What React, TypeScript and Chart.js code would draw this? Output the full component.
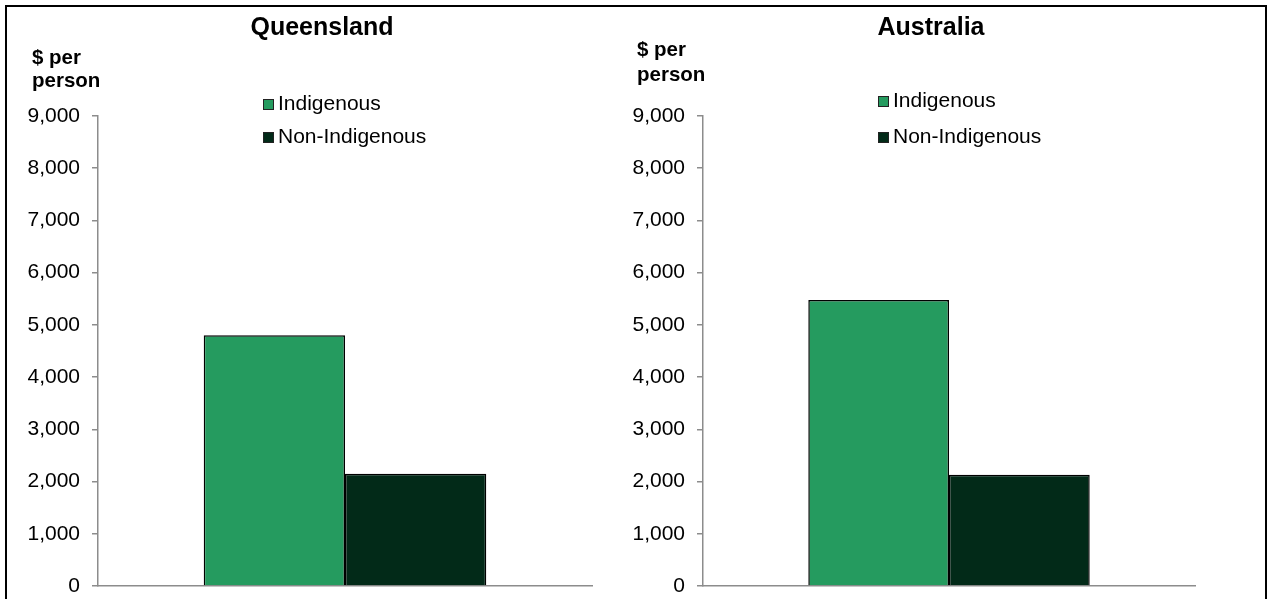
import React, { useEffect, useRef } from "react";
import { Chart, registerables } from "chart.js";

Chart.register(...registerables);

const regions = ["Queensland", "Australia"];
const seriesNames = ["Indigenous", "Non-Indigenous"];
const indigenousValues = [4800, 5475];
const nonIndigenousValues = [2150, 2130];
const yMin = 0;
const yMax = 9000;
const yStep = 1000;
const unitLines = ["$ per", "person"];

const seriesColors = ["#259B5F", "#022A18"];
const FONT = "'Liberation Sans', Arial, sans-serif";

type PanelLayout = {
  canvasLeft: number;
  canvasWidth: number;
  axisWidth: number;
  padRight: number;
  titleX: number;
  unitX: number;
  unitY: number[];
  legendX: number;
  legendY: number[];
};

const layouts: PanelLayout[] = [
  { canvasLeft: 0, canvasWidth: 620, axisWidth: 98, padRight: 28, titleX: 322, unitX: 32, unitY: [58, 81], legendX: 263, legendY: [104, 137] },
  { canvasLeft: 620, canvasWidth: 648, axisWidth: 83, padRight: 73, titleX: 311, unitX: 17, unitY: [50, 75], legendX: 258, legendY: [101, 137] },
];

const decorPlugin = {
  id: "panelDecor",
  afterDraw(chart: any, _args: any, opts: any) {
    const ctx = chart.ctx;
    ctx.save();
    ctx.fillStyle = "#000";
    ctx.textBaseline = "middle";
    // title
    ctx.font = `bold 25px ${FONT}`;
    ctx.textAlign = "center";
    ctx.fillText(opts.title, opts.titleX, 28);
    // unit label
    ctx.font = `bold 20.5px ${FONT}`;
    ctx.textAlign = "left";
    opts.unitLines.forEach((t: string, i: number) => ctx.fillText(t, opts.unitX, opts.unitY[i]));
    // legend
    ctx.font = `21px ${FONT}`;
    chart.data.datasets.forEach((ds: any, i: number) => {
      const y = opts.legendY[i];
      ctx.fillStyle = ds.backgroundColor;
      ctx.fillRect(opts.legendX, y - 5, 11, 11);
      ctx.strokeStyle = "#222";
      ctx.lineWidth = 1;
      ctx.strokeRect(opts.legendX + 0.5, y - 4.5, 10, 10);
      ctx.fillStyle = "#000";
      ctx.fillText(ds.label, opts.legendX + 15, y);
    });
    ctx.restore();
  },
};

function Panel({ index }: { index: number }) {
  const ref = useRef<HTMLCanvasElement | null>(null);
  const L = layouts[index];
  useEffect(() => {
    if (!ref.current) return;
    const values = [indigenousValues[index], nonIndigenousValues[index]];
    const chart = new Chart(ref.current, {
      type: "bar",
      data: {
        labels: [regions[index]],
        datasets: seriesNames.map((name, i) => ({
          label: name,
          data: [values[i]],
          backgroundColor: seriesColors[i],
          borderColor: "#000",
          borderWidth: 1.5,
          categoryPercentage: 0.572,
          barPercentage: 1,
        })),
      },
      options: {
        animation: false,
        responsive: false,
        maintainAspectRatio: false,
        devicePixelRatio: 1,
        layout: { padding: { left: 0, top: 116, right: L.padRight, bottom: 0 } },
        plugins: {
          legend: { display: false },
          title: { display: false },
          tooltip: { enabled: false },
          panelDecor: {
            title: regions[index],
            titleX: L.titleX,
            unitLines,
            unitX: L.unitX,
            unitY: L.unitY,
            legendX: L.legendX,
            legendY: L.legendY,
          },
        } as any,
        scales: {
          x: {
            ticks: { display: false },
            grid: { display: false, drawTicks: false },
            border: { display: true, color: "#8C8C8C", width: 1.5 },
            afterFit: (s: any) => { s.height = 13; },
          },
          y: {
            min: yMin,
            max: yMax,
            ticks: {
              stepSize: yStep,
              color: "#000",
              font: { family: FONT, size: 21 },
              padding: 12,
              callback: (v: any) => Number(v).toLocaleString("en-US"),
            },
            grid: { drawOnChartArea: false, drawTicks: true, tickLength: 6, color: "#8C8C8C", lineWidth: 1.5 },
            border: { display: true, color: "#8C8C8C", width: 1.5 },
            afterFit: (s: any) => {
              s.width = L.axisWidth;
              s.paddingTop = 0;
              s.paddingBottom = 0;
            },
          },
        },
      },
      plugins: [decorPlugin],
    });
    return () => chart.destroy();
  }, [index]);
  return (
    <canvas
      ref={ref}
      width={L.canvasWidth}
      height={599}
      style={{ position: "absolute", left: L.canvasLeft, top: 0, width: L.canvasWidth, height: 599 }}
    />
  );
}

export default function App() {
  return (
    <div style={{ position: "fixed", left: 0, top: 0, width: 1268, height: 599, overflow: "hidden", background: "#fff" }}>
      <div style={{ position: "absolute", left: 5, top: 5, width: 1262, height: 700, border: "2px solid #000", boxSizing: "border-box" }} />
      <Panel index={0} />
      <Panel index={1} />
    </div>
  );
}
